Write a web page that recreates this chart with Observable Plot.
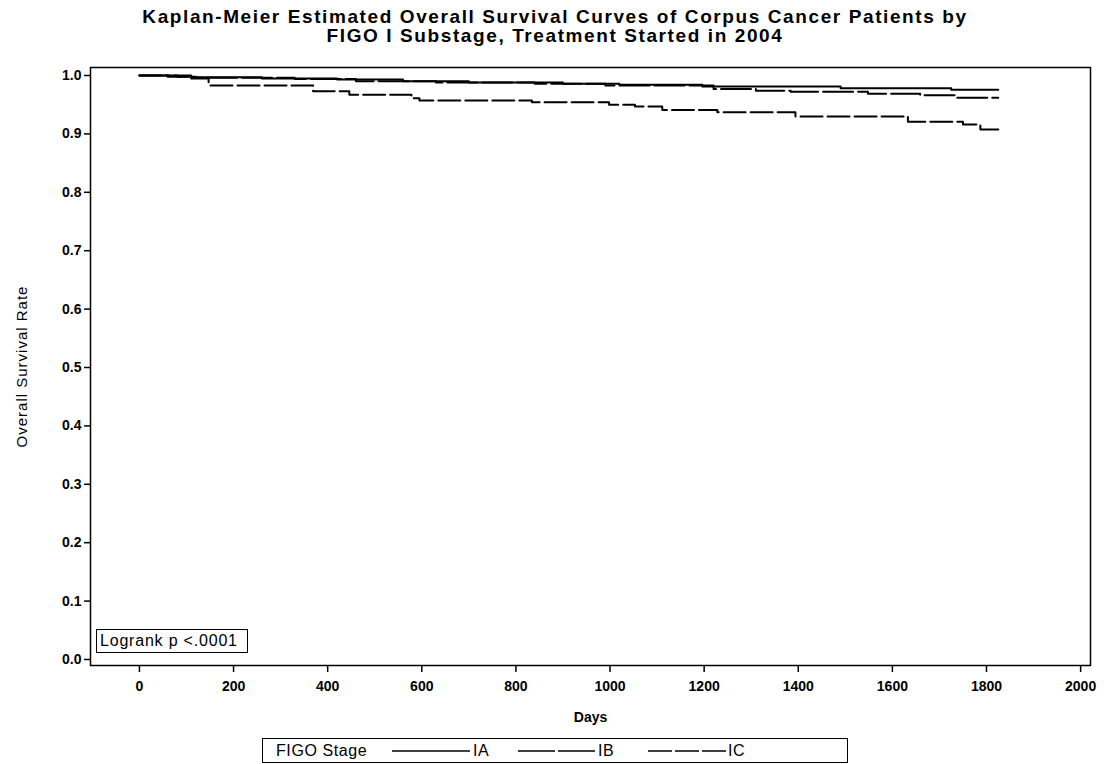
<!DOCTYPE html>
<html><head><meta charset="utf-8">
<script src="https://cdn.jsdelivr.net/npm/d3@7"></script>
<script src="https://cdn.jsdelivr.net/npm/@observablehq/plot@0.6"></script>
<style>
body{margin:0;background:#fff;font-family:"Liberation Sans",Arial,sans-serif;color:#000;}
#wrap{position:relative;width:1110px;height:764px;overflow:hidden;}
#title{position:absolute;top:7px;left:0;width:1110px;text-align:center;font-weight:bold;font-size:19px;letter-spacing:1.6px;line-height:19px;}
#chart{position:absolute;top:50px;left:0;}
#logrank{position:absolute;left:96px;top:629px;width:152px;height:24px;border:1.5px solid #000;box-sizing:border-box;font-size:16px;letter-spacing:0.8px;line-height:21px;padding-left:3px;white-space:nowrap;}
#legend{position:absolute;left:262px;top:738px;width:586px;height:25px;border:1.5px solid #000;box-sizing:border-box;font-size:16px;letter-spacing:0.6px;white-space:nowrap;}
#legend > *{position:absolute;top:2px;line-height:19px;}
#legend svg{top:7px;}
#chart g[aria-label="y-axis label"] text{font-weight:normal;font-size:15px;letter-spacing:1px;}
#chart g[aria-label="x-axis label"] text{font-weight:bold;font-size:14px;}
</style>
</head><body>
<div id="wrap">
  <div id="title"></div>
  <div id="chart"></div>
  <div id="logrank"></div>
  <div id="legend"></div>
</div>
<script>
const titleLines = ["Kaplan-Meier Estimated Overall Survival Curves of Corpus Cancer Patients by", "FIGO I Substage, Treatment Started in 2004"];
const xLabel = "Days";
const yLabel = "Overall Survival Rate";
const xTicks = [0, 200, 400, 600, 800, 1000, 1200, 1400, 1600, 1800, 2000];
const yTicks = [0, 0.1, 0.2, 0.3, 0.4, 0.5, 0.6, 0.7, 0.8, 0.9, 1.0];
const logrankText = "Logrank p <.0001";
const legendTitle = "FIGO Stage";
const stages = ["IA", "IB", "IC"];
const dashes = ["none", "30,5", "22,5"];

const iaDays = [0, 110, 260, 420, 560, 700, 900, 1020, 1196, 1490, 1725, 1825];
const iaSurv = [1.0, 0.997, 0.995, 0.993, 0.990, 0.988, 0.986, 0.984, 0.981, 0.978, 0.9755, 0.9755];
const ibDays = [0, 80, 120, 330, 460, 630, 840, 990, 1220, 1310, 1384, 1548, 1659, 1733, 1825];
const ibSurv = [1.0, 0.998, 0.996, 0.994, 0.990, 0.988, 0.986, 0.983, 0.977, 0.974, 0.972, 0.9686, 0.966, 0.962, 0.962];
const icDays = [0, 60, 110, 147, 369, 446, 578, 595, 834, 998, 1053, 1111, 1228, 1394, 1633, 1750, 1787, 1825];
const icSurv = [1.0, 0.998, 0.995, 0.983, 0.973, 0.967, 0.961, 0.957, 0.954, 0.950, 0.947, 0.941, 0.937, 0.930, 0.921, 0.916, 0.9075, 0.9075];

const series = [[iaDays, iaSurv], [ibDays, ibSurv], [icDays, icSurv]];
const data = [];
series.forEach(([d, s], i) => d.forEach((day, j) => data.push({stage: stages[i], day, surv: s[j]})));

document.getElementById("title").innerHTML = titleLines.join("<br>");
document.getElementById("logrank").textContent = logrankText;

const plot = Plot.plot({
  width: 1110,
  height: 680,
  marginLeft: 90,
  marginRight: 20,
  marginTop: 17,
  marginBottom: 65,
  style: {fontFamily: '"Liberation Sans", Arial, sans-serif', fontSize: "14px", color: "#000", background: "#fff"},
  x: {domain: [-104, 2021]},
  y: {domain: [-0.0103, 1.0137]},
  marks: [
    Plot.frame({stroke: "#000", strokeWidth: 1.5}),
    Plot.axisX({ticks: xTicks, tickSize: 7, tickPadding: 9, strokeWidth: 1.5, fontWeight: "bold", fontSize: 14,
      tickFormat: d3.format("d"),
      label: xLabel, labelAnchor: "center", labelOffset: 56, labelArrow: "none"}),
    Plot.axisY({ticks: yTicks, tickSize: 6, tickPadding: 3, strokeWidth: 1.5, fontWeight: "bold", fontSize: 14,
      tickFormat: d3.format(".1f"), label: yLabel, labelAnchor: "center", labelOffset: 74, labelArrow: "none"}),
    ...stages.map((st, i) => Plot.line(data.filter(d => d.stage === st), {
      x: "day", y: "surv", curve: "step-after", stroke: "#000", strokeWidth: 2,
      strokeDasharray: dashes[i] === "none" ? null : dashes[i]
    }))
  ]
});
document.getElementById("chart").appendChild(plot);

const leg = document.getElementById("legend");
const t = document.createElement("span");
t.textContent = legendTitle;
t.style.left = "13px";
leg.appendChild(t);
const swLeft = [129, 255, 385];
const labLeft = [210, 335, 465];
stages.forEach((st, i) => {
  const ns = "http://www.w3.org/2000/svg";
  const svg = document.createElementNS(ns, "svg");
  svg.setAttribute("width", 78); svg.setAttribute("height", 10);
  svg.style.left = swLeft[i] + "px";
  const ln = document.createElementNS(ns, "line");
  ln.setAttribute("x1", 0); ln.setAttribute("x2", 78); ln.setAttribute("y1", 5); ln.setAttribute("y2", 5);
  ln.setAttribute("stroke", "#000"); ln.setAttribute("stroke-width", 1.3);
  if (dashes[i] !== "none") ln.setAttribute("stroke-dasharray", i === 1 ? "37,3" : "24,3");
  svg.appendChild(ln);
  leg.appendChild(svg);
  const s = document.createElement("span");
  s.textContent = st;
  s.style.left = labLeft[i] + "px";
  leg.appendChild(s);
});
</script>
</body></html>
